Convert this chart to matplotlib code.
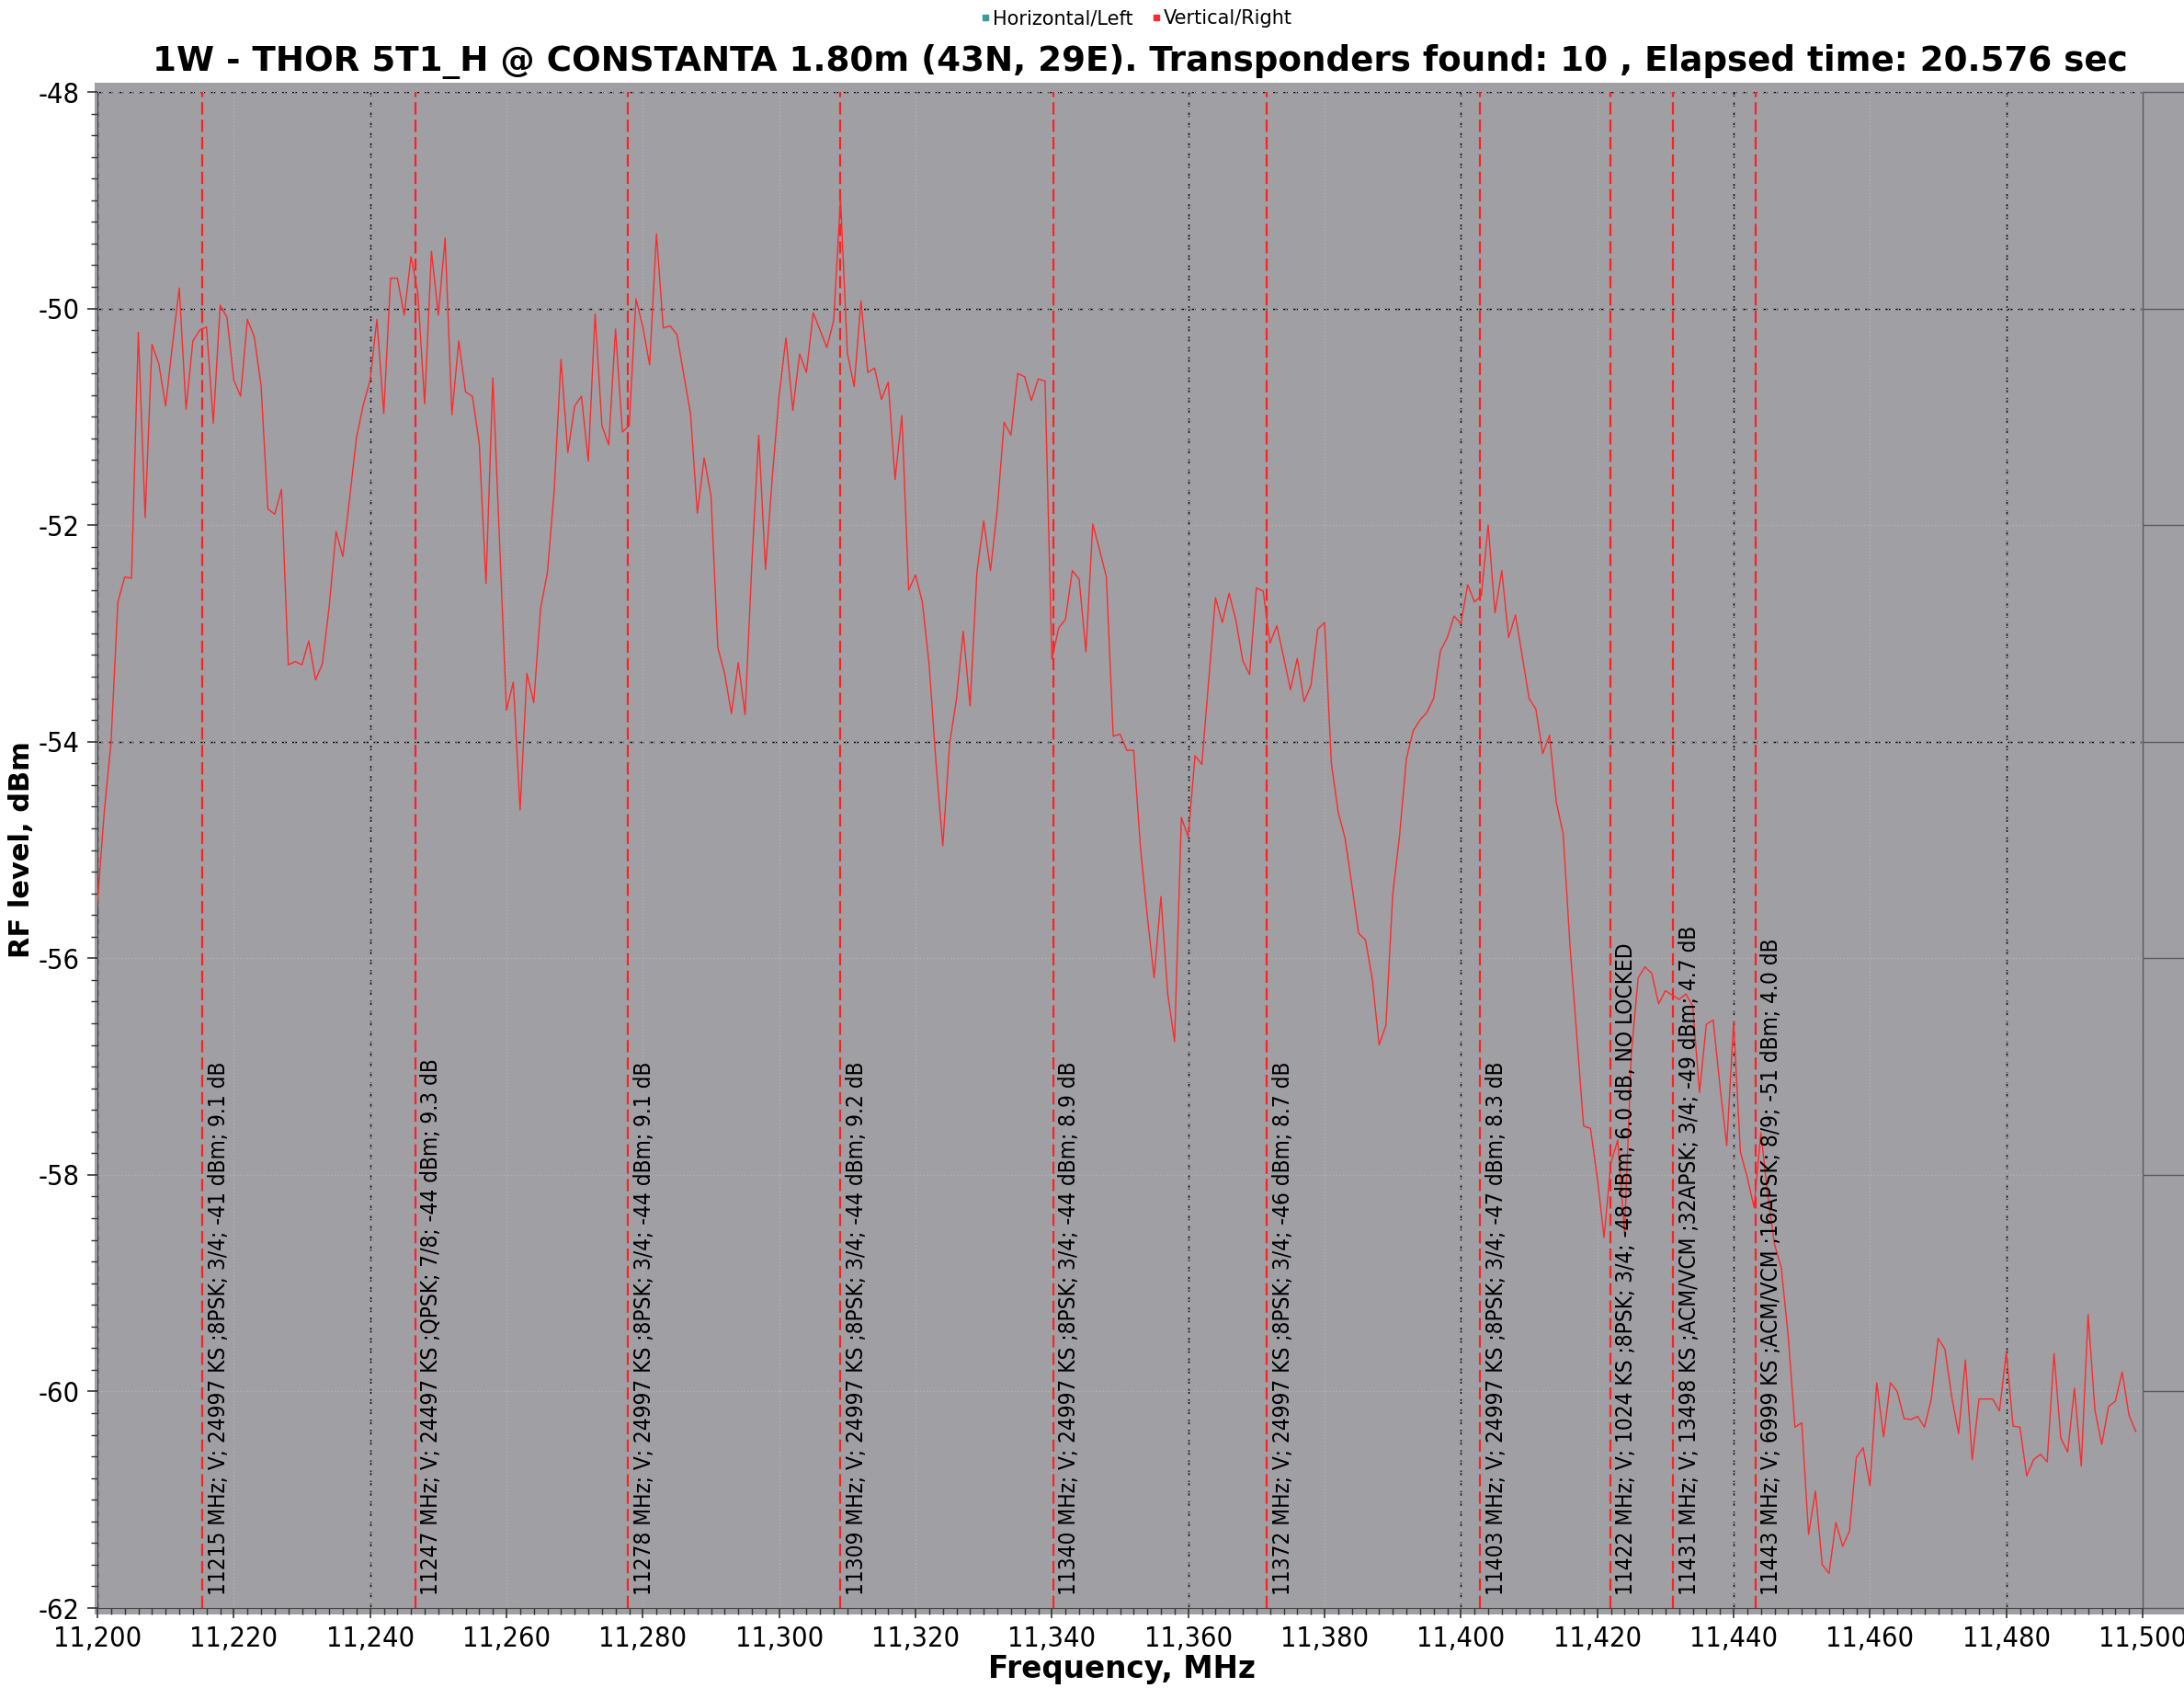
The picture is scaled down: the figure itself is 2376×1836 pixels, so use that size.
import numpy as np
import matplotlib
matplotlib.use("Agg")
import matplotlib.pyplot as plt
from matplotlib.lines import Line2D
from matplotlib.patches import Rectangle
from matplotlib.ticker import MultipleLocator, FuncFormatter

plt.rcParams['font.family'] = ['DejaVu Sans']
plt.rcParams['axes.unicode_minus'] = False

# spectrum, vertical/right polarisation, one sample per MHz from 11200 MHz
freq_start = 11200
levels = [
    -55.49, -54.65, -54.00, -52.71, -52.48, -52.49, -50.22, -51.93, -50.33, -50.51,
    -50.90, -50.34, -49.81, -50.93, -50.30, -50.20, -50.17, -51.06, -49.97, -50.08,
    -50.66, -50.81, -50.10, -50.26, -50.71, -51.85, -51.90, -51.67, -53.29, -53.26,
    -53.29, -53.07, -53.43, -53.28, -52.75, -52.06, -52.29, -51.75, -51.19, -50.89,
    -50.66, -50.10, -50.97, -49.72, -49.72, -50.06, -49.52, -49.86, -50.88, -49.47,
    -50.06, -49.35, -50.98, -50.30, -50.77, -50.81, -51.24, -52.54, -50.64, -52.17,
    -53.71, -53.45, -54.63, -53.37, -53.64, -52.77, -52.44, -51.68, -50.47, -51.33,
    -50.90, -50.81, -51.41, -50.05, -51.08, -51.26, -50.19, -51.14, -51.08, -49.91,
    -50.17, -50.52, -49.31, -50.18, -50.16, -50.24, -50.61, -50.97, -51.89, -51.38,
    -51.73, -53.13, -53.37, -53.74, -53.27, -53.75, -52.35, -51.17, -52.41, -51.55,
    -50.80, -50.27, -50.94, -50.42, -50.59, -50.04, -50.20, -50.36, -50.11, -48.98,
    -50.41, -50.72, -49.93, -50.59, -50.55, -50.84, -50.68, -51.58, -50.99, -52.60,
    -52.46, -52.71, -53.29, -54.19, -54.96, -54.02, -53.61, -52.98, -53.67, -52.44,
    -51.96, -52.42, -51.85, -51.05, -51.17, -50.60, -50.63, -50.85, -50.65, -50.67,
    -53.24, -52.95, -52.87, -52.42, -52.50, -53.17, -51.99, -52.23, -52.48, -53.95,
    -53.93, -54.08, -54.08, -54.98, -55.61, -56.18, -55.43, -56.33, -56.77, -54.70,
    -54.88, -54.13, -54.21, -53.44, -52.67, -52.90, -52.63, -52.88, -53.25, -53.38,
    -52.58, -52.61, -53.09, -52.93, -53.22, -53.52, -53.23, -53.63, -53.48, -52.96,
    -52.90, -54.20, -54.65, -54.89, -55.32, -55.77, -55.83, -56.19, -56.80, -56.62,
    -55.41, -54.87, -54.16, -53.90, -53.80, -53.73, -53.60, -53.16, -53.04, -52.84,
    -52.91, -52.55, -52.71, -52.65, -52.00, -52.81, -52.42, -53.04, -52.83, -53.21,
    -53.60, -53.70, -54.11, -53.94, -54.56, -54.85, -55.88, -56.72, -57.55, -57.57,
    -58.02, -58.58, -57.89, -57.68, -58.54, -56.88, -56.18, -56.08, -56.14, -56.42,
    -56.30, -56.34, -56.38, -56.33, -56.44, -57.24, -56.61, -56.57, -57.18, -57.73,
    -56.59, -57.79, -58.02, -58.30, -57.61, -58.18, -58.64, -58.86, -59.48, -60.33,
    -60.29, -61.32, -60.92, -61.60, -61.68, -61.21, -61.43, -61.29, -60.61, -60.52,
    -60.87, -59.92, -60.42, -59.92, -60.00, -60.25, -60.26, -60.23, -60.33, -60.07,
    -59.51, -59.61, -60.05, -60.39, -59.71, -60.63, -60.07, -60.07, -60.07, -60.18,
    -59.64, -60.32, -60.33, -60.78, -60.63, -60.58, -60.65, -59.65, -60.43, -60.56,
    -59.97, -60.69, -59.29, -60.17, -60.49, -60.14, -60.09, -59.82, -60.22, -60.37,
]
freqs = freq_start + np.arange(len(levels))

# transponders found
tp_freq = [11215.4, 11246.6, 11277.8, 11309.0, 11340.2, 11371.5, 11402.8,
           11421.9, 11431.1, 11443.2]
tp_text = [
    "11215 MHz; V; 24997 KS ;8PSK; 3/4; -41 dBm; 9.1 dB",
    "11247 MHz; V; 24497 KS ;QPSK; 7/8; -44 dBm; 9.3 dB",
    "11278 MHz; V; 24997 KS ;8PSK; 3/4; -44 dBm; 9.1 dB",
    "11309 MHz; V; 24997 KS ;8PSK; 3/4; -44 dBm; 9.2 dB",
    "11340 MHz; V; 24997 KS ;8PSK; 3/4; -44 dBm; 8.9 dB",
    "11372 MHz; V; 24997 KS ;8PSK; 3/4; -46 dBm; 8.7 dB",
    "11403 MHz; V; 24997 KS ;8PSK; 3/4; -47 dBm; 8.3 dB",
    "11422 MHz; V; 1024 KS ;8PSK; 3/4; -48 dBm; 6.0 dB, NO LOCKED",
    "11431 MHz; V; 13498 KS ;ACM/VCM ;32APSK; 3/4; -49 dBm; 4.7 dB",
    "11443 MHz; V; 6999 KS ;ACM/VCM ;16APSK; 8/9; -51 dBm; 4.0 dB",
]

# gridlines that the tool draws dark
dark_x = [11200, 11240, 11360, 11400, 11440, 11480]
dark_y = [-48, -50, -54]

title = ("1W - THOR 5T1_H @ CONSTANTA 1.80m (43N, 29E). "
         "Transponders found: 10 , Elapsed time: 20.576 sec")

bg = '#a09fa4'
W, H = 2376, 1836
fig = plt.figure(figsize=(W / 100, H / 100), dpi=100)
fig.add_artist(Rectangle((103 / W, 1 - 1756 / H), 1 - 103 / W, (1756 - 90) / H,
                         transform=fig.transFigure, facecolor=bg,
                         edgecolor='none', zorder=-5))
ax = fig.add_axes([106 / W, 1 - 1749 / H, (2331 - 106) / W, (1749 - 100) / H])
ax.set_facecolor(bg)
ax.set_xlim(11200, 11500)
ax.set_ylim(-62, -48)

ax.xaxis.set_major_locator(MultipleLocator(20))
ax.xaxis.set_minor_locator(MultipleLocator(2))
ax.yaxis.set_major_locator(MultipleLocator(2))
ax.yaxis.set_minor_locator(MultipleLocator(0.2))
ax.xaxis.set_major_formatter(FuncFormatter(lambda v, p: f"{v:,.0f}"))
ax.yaxis.set_major_formatter(FuncFormatter(lambda v, p: f"{v:.0f}"))
ax.tick_params(which='major', length=8, width=1.2, color='#333333',
               labelsize=22, pad=6)
ax.tick_params(which='minor', length=5, width=1, color='#333333')
for lab in ax.get_xticklabels() + ax.get_yticklabels():
    lab.set_fontstretch('condensed')

ax.grid(True, which='major', color='#b2b1b6', linestyle=':', linewidth=1)
for xv in dark_x:
    ax.axvline(xv, color='black', linestyle=(0, (4, 4)), linewidth=1, zorder=1)
for yv in dark_y:
    ax.axhline(yv, color='black', linestyle=(0, (4, 4)), linewidth=1, zorder=1)

ax.spines['top'].set_visible(False)
ax.spines['right'].set_color('#5a5a60')
ax.spines['right'].set_linewidth(1)
ax.spines['left'].set_color('#444444')
ax.spines['bottom'].set_color('#444444')

sec = ax.secondary_yaxis('right')
sec.yaxis.set_major_locator(MultipleLocator(2))
sec.tick_params(length=34, width=1, color='#5a5a60', labelright=False)
sec.spines['right'].set_visible(False)

ax.plot(freqs, levels, color='#ff2a2a', linewidth=1.0, zorder=4)

for f, t in zip(tp_freq, tp_text):
    ax.axvline(f, color='#ff2020', linestyle=(0, (6, 2.5)), linewidth=1.6, zorder=3)
    ax.annotate(t, xy=(f, -61.88), xytext=(4, 0), textcoords='offset points',
                rotation=90, ha='left', va='bottom', fontsize=17.5,
                fontstretch='condensed', color='black', zorder=5)

fig.text(0.522, 1 - 67 / H, title, ha='center', va='center',
         fontsize=26.8, fontweight='bold')
fig.text(1220 / W, 1 - 1815 / H, "Frequency, MHz", ha='center', va='center',
         fontsize=23.5, fontweight='bold')
fig.text(24 / W, 1 - 924 / H, "RF level, dBm", ha='center', va='center',
         rotation=90, fontsize=22, fontweight='bold')

handles = [Line2D([], [], linestyle='none', marker='s', markersize=5,
                  color='#3a9c9c', label='Horizontal/Left'),
           Line2D([], [], linestyle='none', marker='s', markersize=5,
                  color='#ff2a2a', label='Vertical/Right')]
fig.legend(handles=handles, loc='center', bbox_to_anchor=(1237 / W, 1 - 20 / H),
           ncol=2, frameon=False, fontsize=15, handlelength=0.4,
           handletextpad=0.2, columnspacing=1.0)

fig.savefig('out.png', dpi=100)
